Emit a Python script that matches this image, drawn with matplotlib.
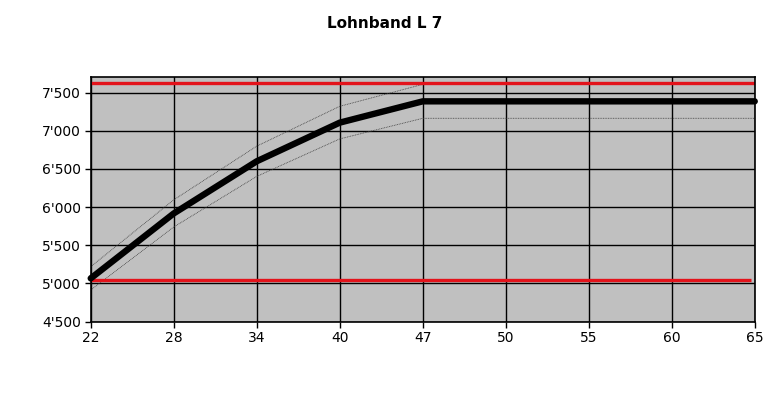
import numpy as np
import matplotlib
matplotlib.use('Agg')
from matplotlib import pyplot as plt
from matplotlib.ticker import FuncFormatter

ages = ['22', '28', '34', '40', '47', '50', '55', '60', '65']
lohn = [5067, 5917, 6600, 7106, 7385, 7385, 7385, 7385, 7385]
lohn_oben = [5220, 6095, 6798, 7320, 7607, 7607, 7607, 7607, 7607]
lohn_unten = [4915, 5740, 6402, 6893, 7163, 7163, 7163, 7163, 7163]
band_max = 7625
band_min = 5050

x = np.arange(len(ages))

fig = plt.figure(figsize=(7.76, 4.0), dpi=100)
ax = fig.add_axes([0.1169, 0.1958, 0.8557, 0.611])
ax.set_facecolor('#c0c0c0')

ax.grid(True, color='black', linewidth=1.0)
ax.set_axisbelow(True)

ax.plot(x, lohn_oben, color='#404040', linewidth=0.6, linestyle=(0, (1, 1)))
ax.plot(x, lohn_unten, color='#404040', linewidth=0.6, linestyle=(0, (1, 1)))
ax.plot([x[0], x[-1]], [band_max, band_max], color='#e3131b', linewidth=2.4, solid_capstyle='butt')
ax.plot([x[0], x[-1] - 0.05], [band_min, band_min], color='#e3131b', linewidth=2.4, solid_capstyle='butt')
ax.plot(x, lohn, color='black', linewidth=4.6, solid_capstyle='round', clip_on=False)

ax.set_xlim(0, len(ages) - 1)
ax.set_ylim(4500, 7700)
ax.set_xticks(x)
ax.set_xticklabels(ages)
ax.set_yticks(np.arange(4500, 7501, 500))
ax.yaxis.set_major_formatter(FuncFormatter(lambda v, p: f"{int(v):,}".replace(',', "'")))
ax.tick_params(direction='out', length=4, width=1, colors='black', labelsize=10, pad=3)
for s in ax.spines.values():
    s.set_color('black')
    s.set_linewidth(1.2)

fig.text(0.496, 0.94, 'Lohnband L 7', ha='center', va='center', fontsize=11, fontweight='bold')

fig.savefig('out.png', dpi=100)
